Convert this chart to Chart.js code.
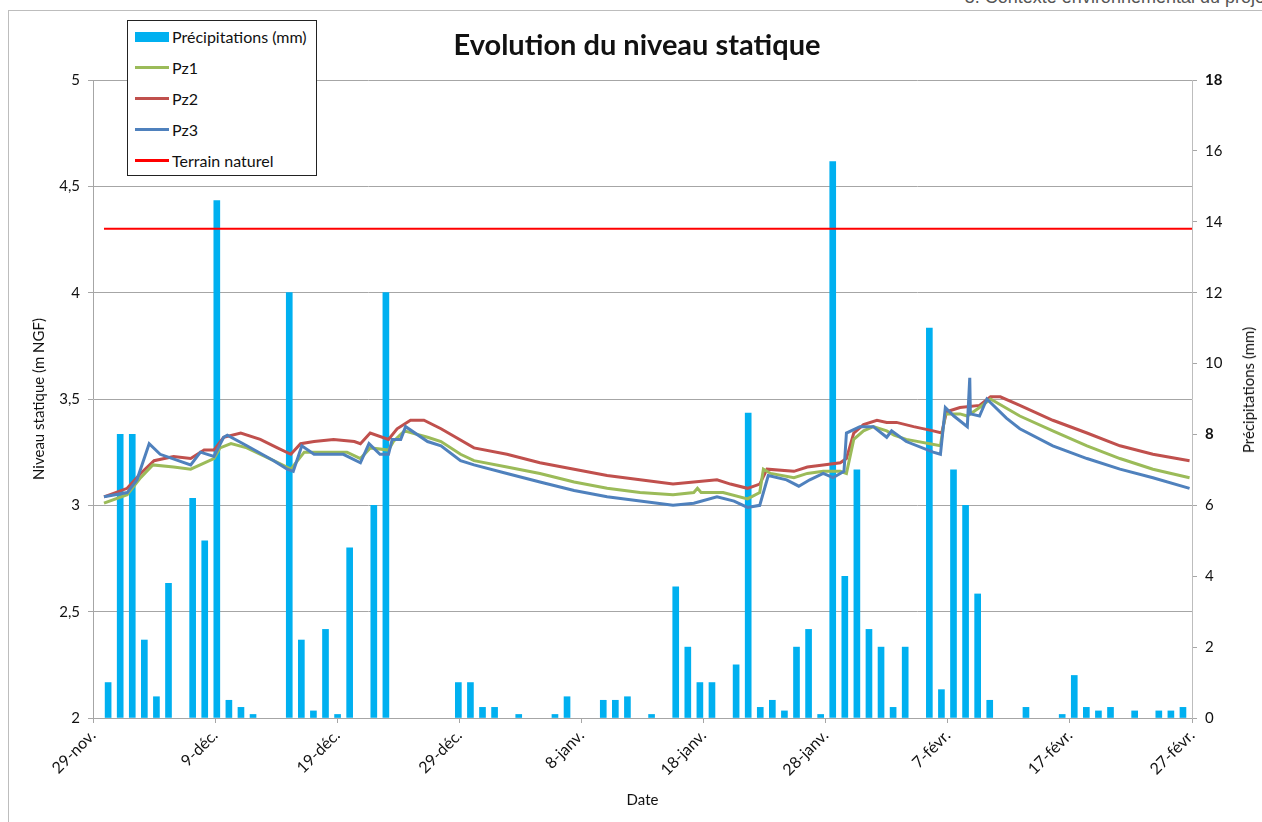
<!DOCTYPE html>
<html lang="fr">
  <head>
    <meta charset="UTF-8" />
    <title>Evolution du niveau statique</title>
    <script src="https://cdn.jsdelivr.net/npm/chart.js@4.4.1/dist/chart.umd.min.js"></script>
    <style>
      body { margin: 0; background: #fff; font-family: Lato, sans-serif; }
      #wrap { position: relative; width: 1262px; height: 822px; overflow: hidden; }
      #frame { position: absolute; left: 8px; top: 10px; width: 1300px; height: 900px; border: 1px solid #bdbdbd; }
      #header { position: absolute; right: -8px; top: -13px; font: 18px "Liberation Sans", Arial, sans-serif; color: #555; white-space: nowrap; }
      #title { position: absolute; left: 0; width: 1274px; top: 26px; text-align: center; font: bold 29px Lato, sans-serif; color: #111; }
      #legend { position: absolute; left: 127px; top: 20px; width: 190px; height: 156px; border: 1px solid #222; background: #fff; box-sizing: border-box; padding-top: 0px; }
      .item { display: flex; align-items: center; height: 31px; font: 16px Lato, sans-serif; color: #111; }
      .sw { width: 34px; margin-left: 7px; margin-right: 3px; }
      #rtitle { position: absolute; left: 1248px; top: 390px; transform: translate(-50%, -50%) rotate(-90deg); font: 15px Lato, sans-serif; color: #111; white-space: nowrap; }
      canvas { position: absolute; left: 0; top: 0; }
    </style>
  </head>
  <body>
    <div id="wrap">
      <div id="frame"></div>
      <div id="header">5. Contexte environnemental du projet</div>
      <canvas id="myChart" width="1262" height="822"></canvas>
      <div id="title">Evolution du niveau statique</div>
      <div id="rtitle">Précipitations (mm)</div>
      <div id="legend"></div>
    </div>
    <script>
      // x tick labels, every 10 days from 29 Nov
      const dateTicks = ["29-nov.", "9-déc.", "19-déc.", "29-déc.", "8-janv.", "18-janv.", "28-janv.", "7-févr.", "17-févr.", "27-févr."]

      // daily rain (mm), 29 Nov -> 27 Feb (91 days)
      const precip = [
        0, 1.0, 8.0, 8.0, 2.2, 0.6, 3.8, 0, 6.2, 5.0,
        14.6, 0.5, 0.3, 0.1, 0, 0, 12.0, 2.2, 0.2, 2.5,
        0.1, 4.8, 0, 6.0, 12.0, 0, 0, 0, 0, 0,
        1.0, 1.0, 0.3, 0.3, 0, 0.1, 0, 0, 0.1, 0.6,
        0, 0, 0.5, 0.5, 0.6, 0, 0.1, 0, 3.7, 2.0,
        1.0, 1.0, 0, 1.5, 8.6, 0.3, 0.5, 0.2, 2.0, 2.5,
        0.1, 15.7, 4.0, 7.0, 2.5, 2.0, 0.3, 2.0, 0, 11.0,
        0.8, 7.0, 6.0, 3.5, 0.5, 0, 0, 0.3, 0, 0,
        0.1, 1.2, 0.3, 0.2, 0.3, 0, 0.2, 0, 0.2, 0.2,
        0.3
      ]

      // piezometer levels [days since 29 Nov, m NGF]
      const pz1 = [
        [0.9, 3.01], [2.8, 3.05], [3.9, 3.13], [4.9, 3.19], [6.6, 3.18], [8.0, 3.17], [9.9, 3.22], [10.4, 3.27],
        [11.3, 3.29], [12.6, 3.27], [14.8, 3.21], [16.2, 3.17], [17.3, 3.25], [18.6, 3.25], [20.8, 3.25], [21.9, 3.22],
        [22.7, 3.27], [24.2, 3.26], [24.6, 3.30], [25.5, 3.35], [27.4, 3.32], [28.5, 3.30], [30.1, 3.24], [31.2, 3.21],
        [33.9, 3.18], [36.6, 3.15], [39.4, 3.11], [42.1, 3.08], [44.8, 3.06], [47.5, 3.05], [49.2, 3.06], [49.5, 3.08],
        [49.8, 3.06], [51.6, 3.06], [53.6, 3.03], [54.6, 3.06], [54.9, 3.17], [55.5, 3.15], [57.4, 3.13], [58.5, 3.15],
        [59.8, 3.16], [61.2, 3.16], [61.7, 3.15], [62.3, 3.31], [63.1, 3.35], [63.9, 3.37], [65.0, 3.35], [65.6, 3.33],
        [66.6, 3.31], [69.4, 3.28], [69.8, 3.43], [71.0, 3.43], [71.6, 3.42], [72.6, 3.46], [73.5, 3.50], [75.9, 3.42],
        [78.6, 3.35], [81.4, 3.28], [84.1, 3.22], [86.8, 3.17], [89.8, 3.13]
      ]
      const pz2 = [
        [0.9, 3.04], [2.8, 3.08], [3.9, 3.15], [5.0, 3.21], [6.6, 3.23], [8.0, 3.22], [9.1, 3.26], [9.9, 3.26],
        [10.7, 3.32], [12.1, 3.34], [13.7, 3.31], [15.1, 3.27], [16.2, 3.24], [17.0, 3.29], [18.1, 3.30], [19.7, 3.31],
        [21.4, 3.30], [21.9, 3.29], [22.7, 3.34], [24.2, 3.31], [24.9, 3.36], [26.0, 3.40], [27.1, 3.40], [28.5, 3.36],
        [31.2, 3.27], [33.9, 3.24], [36.6, 3.20], [39.4, 3.17], [42.1, 3.14], [44.8, 3.12], [47.5, 3.10], [49.2, 3.11],
        [51.1, 3.12], [52.2, 3.10], [53.6, 3.08], [54.6, 3.10], [55.2, 3.17], [57.4, 3.16], [58.5, 3.18], [59.8, 3.19],
        [61.2, 3.20], [61.7, 3.22], [62.3, 3.34], [63.1, 3.38], [64.2, 3.40], [65.0, 3.39], [65.8, 3.39], [67.2, 3.37],
        [68.8, 3.35], [69.5, 3.34], [69.9, 3.44], [71.0, 3.46], [72.6, 3.47], [73.5, 3.51], [74.3, 3.51], [75.9, 3.47],
        [78.6, 3.40], [81.4, 3.34], [84.1, 3.28], [86.8, 3.24], [89.8, 3.21]
      ]
      const pz3 = [
        [0.9, 3.04], [2.8, 3.06], [3.6, 3.12], [4.6, 3.29], [5.5, 3.24], [8.0, 3.19], [8.8, 3.25], [9.9, 3.23],
        [10.7, 3.32], [11.0, 3.33], [12.6, 3.28], [14.8, 3.21], [15.9, 3.17], [16.4, 3.16], [17.1, 3.28], [18.1, 3.24],
        [20.5, 3.24], [21.9, 3.20], [22.6, 3.29], [23.5, 3.24], [24.2, 3.24], [24.5, 3.31], [25.2, 3.31], [25.6, 3.37],
        [27.4, 3.30], [28.5, 3.28], [30.1, 3.21], [31.2, 3.19], [33.9, 3.15], [36.6, 3.11], [39.4, 3.07], [42.1, 3.04],
        [44.8, 3.02], [47.5, 3.00], [49.2, 3.01], [51.1, 3.04], [52.5, 3.02], [53.6, 2.99], [54.6, 3.00], [55.3, 3.14],
        [56.8, 3.12], [57.8, 3.09], [58.7, 3.12], [59.8, 3.15], [60.6, 3.13], [61.5, 3.16], [61.7, 3.34], [62.8, 3.37],
        [63.9, 3.37], [65.0, 3.32], [65.4, 3.35], [66.6, 3.30], [68.8, 3.25], [69.4, 3.24], [69.8, 3.46], [70.5, 3.42],
        [71.6, 3.37], [71.8, 3.60], [71.85, 3.43], [72.6, 3.42], [73.2, 3.50], [74.8, 3.41], [75.9, 3.36], [78.6, 3.28],
        [81.4, 3.22], [84.1, 3.17], [86.8, 3.13], [89.8, 3.08]
      ]
      const terrain = [[0.9, 4.3], [90, 4.3]]

      const toXY = (arr) => arr.map(([x, y]) => ({ x, y }))
      const gridCol = "#a6a6a6"
      const tickFont = { family: "Lato", size: 15 }

      const ctx = document.getElementById("myChart").getContext("2d")
      const myChart = new Chart(ctx, {
        type: "bar",
        data: {
          labels: precip.map((_, i) => i),
          datasets: [
            {
              label: "Précipitations (mm)",
              // dry days: no bar at all
              data: precip.map((v) => (v > 0 ? v : null)),
              backgroundColor: "#00b0f0",
              borderWidth: 0,
              barThickness: 6,
              xAxisID: "x",
              yAxisID: "y2",
              order: 5,
            },
            { type: "line", label: "Pz1", data: toXY(pz1), borderColor: "#9bbb59", borderWidth: 3, xAxisID: "x2", yAxisID: "y", order: 3 },
            { type: "line", label: "Pz2", data: toXY(pz2), borderColor: "#c0504d", borderWidth: 3, xAxisID: "x2", yAxisID: "y", order: 4 },
            { type: "line", label: "Pz3", data: toXY(pz3), borderColor: "#4f81bd", borderWidth: 3, xAxisID: "x2", yAxisID: "y", order: 2 },
            { type: "line", label: "Terrain naturel", data: toXY(terrain), borderColor: "#ff0000", borderWidth: 2, xAxisID: "x2", yAxisID: "y", order: 1 },
          ],
        },
        options: {
          responsive: false,
          animation: false,
          elements: { point: { radius: 0 }, line: { tension: 0 } },
          layout: { padding: { left: 26, right: 2, top: 80, bottom: 9 } },
          plugins: { legend: { display: false }, tooltip: { enabled: false } },
          scales: {
            x: { display: false, offset: true },
            x2: {
              type: "linear",
              position: "bottom",
              min: 0,
              max: 90,
              offset: false,
              afterFit: (s) => { s.height = 95 },
              grid: { drawOnChartArea: false, offset: false, color: gridCol, tickLength: 5 },
              border: { color: gridCol },
              ticks: {
                stepSize: 10,
                autoSkip: false,
                maxRotation: 45,
                minRotation: 45,
                font: { family: "Lato", size: 16 },
                color: "#111",
                callback: (v) => dateTicks[v / 10],
              },
              title: { display: true, text: "Date", font: { family: "Lato", size: 15 }, color: "#111" },
            },
            y: {
              position: "left",
              min: 2,
              max: 5,
              afterFit: (s) => { s.width = 67 },
              grid: { color: gridCol, tickLength: 5 },
              border: { color: gridCol },
              ticks: { stepSize: 0.5, font: tickFont, color: "#111", padding: 8, callback: (v) => String(v).replace(".", ",") },
              title: { display: true, text: "Niveau statique (m NGF)", font: { family: "Lato", size: 15 }, color: "#111" },
            },
            y2: {
              position: "right",
              min: 0,
              max: 18,
              afterFit: (s) => { s.width = 68 },
              grid: { drawOnChartArea: false, color: gridCol, tickLength: 5 },
              border: { color: "#bdbdbd" },
              ticks: {
                stepSize: 2,
                color: "#111",
                padding: 8,
                font: (c) => ({ family: "Lato", size: 15, weight: c.tick && (c.tick.value === 18 || c.tick.value === 8) ? "bold" : "normal" }),
              },
            },
          },
        },
      })

      // legend box inside the plot, like the original
      const legend = document.getElementById("legend")
      myChart.data.datasets.forEach((ds) => {
        const row = document.createElement("div")
        row.className = "item"
        const sw = document.createElement("div")
        sw.className = "sw"
        if (ds.type === "line") {
          sw.style.height = "3px"
          sw.style.background = ds.borderColor
        } else {
          sw.style.height = "10px"
          sw.style.background = ds.backgroundColor
        }
        const txt = document.createElement("span")
        txt.textContent = ds.label
        row.appendChild(sw)
        row.appendChild(txt)
        legend.appendChild(row)
      })
    </script>
  </body>
</html>
